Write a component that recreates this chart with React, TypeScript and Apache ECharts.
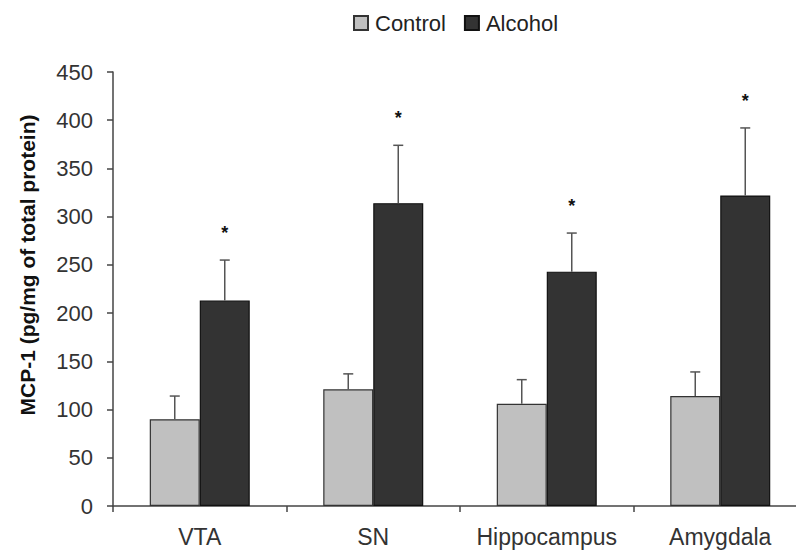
import React, { useEffect, useRef } from "react";
import * as echarts from "echarts";

const categories = ["VTA", "SN", "Hippocampus", "Amygdala"];
const controlValues = [90, 121, 106, 114];
const controlErrors = [24, 16, 25, 25];
const alcoholValues = [213, 314, 243, 322];
const alcoholErrors = [42, 60, 40, 70];
const alcoholSignificant = [true, true, true, true];
const yTicks = { min: 0, max: 450, interval: 50 };
const yAxisTitle = "MCP-1 (pg/mg of total protein)";

const FONT = "'Liberation Sans', Arial, sans-serif";
const BAR_W = 50;

function errorSeries(values: number[], errors: number[], offset: number, stars: boolean[] | null) {
  return {
    type: "custom",
    z: 5,
    silent: true,
    clip: false,
    data: values.map((v, i) => [i, v, errors[i], stars && stars[i] ? 1 : 0]),
    encode: { x: 0, y: 1 },
    renderItem: (params: any, api: any) => {
      const i = api.value(0);
      const v = api.value(1);
      const e = api.value(2);
      const s = api.value(3);
      const base = api.coord([i, v]);
      const top = api.coord([i, v + e]);
      const x = base[0] + offset;
      const children: any[] = [
        {
          type: "line",
          shape: { x1: x, y1: base[1], x2: x, y2: top[1] },
          style: { stroke: "#555", lineWidth: 1.5 },
        },
        {
          type: "line",
          shape: { x1: x - 5, y1: top[1], x2: x + 5, y2: top[1] },
          style: { stroke: "#555", lineWidth: 1.5 },
        },
      ];
      if (s) {
        children.push({
          type: "text",
          x: x,
          y: top[1] - 27,
          style: {
            text: "*",
            fontSize: 18,
            fontWeight: "bold",
            fontFamily: FONT,
            fill: "#111",
            align: "center",
            verticalAlign: "middle",
          },
        });
      }
      return { type: "group", children };
    },
  };
}

export default function App() {
  const ref = useRef<HTMLDivElement>(null);
  useEffect(() => {
    if (!ref.current) return;
    const chart = echarts.init(ref.current, null, { renderer: "svg" });
    chart.setOption({
      animation: false,
      backgroundColor: "#fff",
      legend: {
        left: 353,
        top: 12,
        padding: 0,
        itemWidth: 14,
        itemHeight: 14,
        itemGap: 18,
        icon: "rect",
        textStyle: { fontSize: 22, color: "#222", fontFamily: FONT, padding: [0, 0, 0, 2] },
        data: ["Control", "Alcohol"],
      },
      grid: { left: 113, top: 72, width: 694, height: 434, outerBoundsMode: "none", containLabel: false },
      xAxis: {
        type: "category",
        data: categories,
        axisLine: { lineStyle: { color: "#444", width: 1.5 } },
        axisTick: { show: true, length: 6, lineStyle: { color: "#444", width: 1.5 } },
        axisLabel: { interval: 0, fontSize: 23, color: "#333", fontFamily: FONT, margin: 19 },
      },
      yAxis: {
        type: "value",
        min: yTicks.min,
        max: yTicks.max,
        interval: yTicks.interval,
        splitLine: { show: false },
        axisLine: { show: true, lineStyle: { color: "#444", width: 1.5 } },
        axisTick: { show: true, length: 6, lineStyle: { color: "#444", width: 1.5 } },
        axisLabel: { fontSize: 22, color: "#333", fontFamily: FONT, margin: 20 },
      },
      graphic: [
        {
          type: "text",
          x: 27,
          y: 265,
          rotation: Math.PI / 2,
          style: {
            text: yAxisTitle,
            fontSize: 21,
            fontWeight: "bold",
            fontFamily: FONT,
            fill: "#111",
            align: "center",
            verticalAlign: "middle",
          },
        },
      ],
      series: [
        {
          name: "Control",
          type: "bar",
          data: controlValues,
          barWidth: BAR_W,
          barGap: "0%",
          itemStyle: { color: "#c0c0c0", borderColor: "#333", borderWidth: 1.2 },
        },
        {
          name: "Alcohol",
          type: "bar",
          data: alcoholValues,
          barWidth: BAR_W,
          barGap: "0%",
          itemStyle: { color: "#333333", borderColor: "#111", borderWidth: 1.2 },
        },
        errorSeries(controlValues, controlErrors, -BAR_W / 2, null),
        errorSeries(alcoholValues, alcoholErrors, BAR_W / 2, alcoholSignificant),
      ],
    });
    return () => chart.dispose();
  }, []);
  return <div ref={ref} style={{ width: 796, height: 558, position: "absolute", left: 0, top: 0 }} />;
}
